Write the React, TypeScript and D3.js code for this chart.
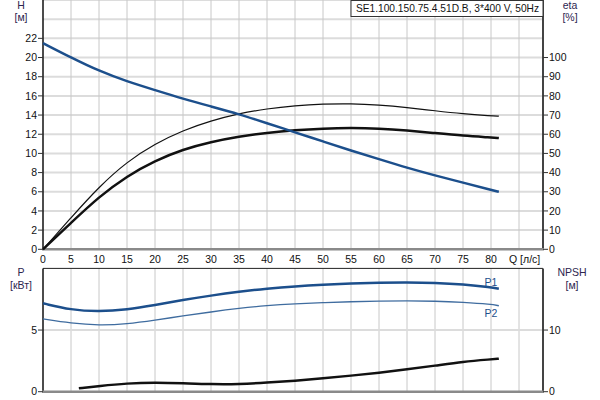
import React from "react";
import * as d3 from "d3";

const qTicks = [0, 5, 10, 15, 20, 25, 30, 35, 40, 45, 50, 55, 60, 65, 70, 75, 80];
const hTicks = [0, 2, 4, 6, 8, 10, 12, 14, 16, 18, 20, 22];
const etaTicks = [0, 10, 20, 30, 40, 50, 60, 70, 80, 90, 100];
const pTicks = [0, 5];
const npshTicks = [0, 10];

const qPts = [0, 5, 10, 15, 20, 25, 30, 35, 40, 45, 50, 55, 60, 65, 70, 75, 80, 81.4];
const headH = [21.5, 20.0, 18.6, 17.5, 16.6, 15.7, 14.9, 14.1, 13.15, 12.2, 11.25, 10.3, 9.4, 8.5, 7.7, 6.95, 6.2, 6.0];
const etaPump = [0, 16.5, 32.6, 45.7, 55, 62, 67, 70.8, 73.3, 74.9, 75.8, 76, 75.3, 74, 72.2, 70.6, 69.6, 69.4];
const etaTotal = [0, 13.8, 27.4, 38.2, 46.2, 52.1, 56, 58.8, 60.8, 62.2, 63, 63.3, 63, 62, 60.6, 59.2, 58.3, 58];
const p1 = [7.17, 6.63, 6.49, 6.66, 7.03, 7.44, 7.8, 8.11, 8.36, 8.55, 8.68, 8.78, 8.84, 8.86, 8.83, 8.71, 8.47, 8.35];
const p2 = [5.9, 5.55, 5.38, 5.49, 5.8, 6.15, 6.47, 6.76, 6.99, 7.13, 7.22, 7.3, 7.35, 7.37, 7.35, 7.25, 7.09, 6.97];
const npshQ = [6.4, 10, 15, 20, 25, 30, 35, 40, 45, 50, 55, 60, 65, 70, 75, 80, 81.4];
const npsh = [0.55, 0.92, 1.36, 1.5, 1.38, 1.22, 1.22, 1.46, 1.78, 2.17, 2.6, 3.08, 3.63, 4.22, 4.87, 5.25, 5.35];

const title = "SE1.100.150.75.4.51D.B, 3*400 V, 50Hz";

const FONT = "'Liberation Sans', Arial, sans-serif";
const BLUE = "#1c4f8c";
const BLUE2 = "#3f6c9f";
const LABEL = "#2d2650";

export default function App() {
  const left = 43;
  const right = 543;
  const x = d3.scaleLinear().domain([0, 80]).range([43, 491]);
  const yH = d3.scaleLinear().domain([0, 26]).range([249.3, 0]);
  const yEta = d3.scaleLinear().domain([0, 130]).range([249.3, 0]);
  const yP = d3.scaleLinear().domain([0, 10]).range([391.7, 268.4]);
  const yN = d3.scaleLinear().domain([0, 20]).range([391.7, 268.4]);

  const mk = (ys: number[], yScale: d3.ScaleLinear<number, number>, xs: number[] = qPts) =>
    d3
      .line<number>()
      .x((_, i) => x(xs[i]))
      .y((d) => yScale(d))
      .curve(d3.curveBasis)(ys) || "";

  const gridQ = d3.range(5, 90, 5);
  const gridH = d3.range(2, 28, 2);

  return (
    <svg
      width={600}
      height={400}
      style={{ position: "fixed", left: 0, top: 0, background: "#fff" }}
      fontFamily={FONT}
      fontSize={10.5}
    >
      <rect x={0} y={0} width={600} height={400} fill="#fff" />
      {/* top plot grid */}
      {gridH.map((h) => (
        <line key={"gh" + h} x1={left} x2={right} y1={yH(h)} y2={yH(h)} stroke="#dcdcdc" strokeWidth={2} />
      ))}
      {gridQ.map((q) => (
        <line key={"gq" + q} x1={x(q)} x2={x(q)} y1={0} y2={249.3} stroke="#c8c8c8" strokeWidth={1} />
      ))}
      {/* bottom plot grid */}
      {gridQ.map((q) => (
        <line key={"bq" + q} x1={x(q)} x2={x(q)} y1={268.4} y2={391.7} stroke="#c8c8c8" strokeWidth={1} />
      ))}
      <line x1={left} x2={right} y1={yP(5)} y2={yP(5)} stroke="#dcdcdc" strokeWidth={2} />

      {/* top axes */}
      <line x1={left} x2={left} y1={0} y2={249.3} stroke="#111" strokeWidth={1.5} />
      <line x1={right} x2={right} y1={0} y2={249.3} stroke="#444" strokeWidth={2} />
      <line x1={left - 1} x2={right + 1} y1={249.3} y2={249.3} stroke="#8a8a8a" strokeWidth={2.5} />
      {hTicks.map((h) => (
        <g key={"ht" + h}>
          <line x1={left - 5} x2={left} y1={yH(h)} y2={yH(h)} stroke="#333" strokeWidth={1} />
          <text x={37} y={yH(h)} dy="0.35em" textAnchor="end" fill="#111">
            {h}
          </text>
        </g>
      ))}
      {etaTicks.map((e) => (
        <g key={"et" + e}>
          <line x1={right} x2={right + 5} y1={yEta(e)} y2={yEta(e)} stroke="#333" strokeWidth={1} />
          <text x={549} y={yEta(e)} dy="0.35em" textAnchor="start" fill="#111">
            {e}
          </text>
        </g>
      ))}
      {qTicks.map((q) => (
        <text key={"qt" + q} x={x(q)} y={259.5} dy="0.35em" textAnchor="middle" fill="#111">
          {q}
        </text>
      ))}
      <text x={509} y={259.5} dy="0.35em" textAnchor="start" fill="#111">
        Q [л/с]
      </text>

      <text x={21} y={5} dy="0.35em" textAnchor="middle" fill={LABEL}>H</text>
      <text x={21} y={17.5} dy="0.35em" textAnchor="middle" fill={LABEL}>[м]</text>
      <text x={570} y={5} dy="0.35em" textAnchor="middle" fill={LABEL}>eta</text>
      <text x={570} y={17.5} dy="0.35em" textAnchor="middle" fill={LABEL}>[%]</text>

      {/* bottom axes */}
      <line x1={left} x2={right} y1={268.4} y2={268.4} stroke="#222" strokeWidth={1} />
      <line x1={left} x2={left} y1={268.4} y2={391.7} stroke="#111" strokeWidth={1.5} />
      <line x1={right} x2={right} y1={268.4} y2={391.7} stroke="#444" strokeWidth={2} />
      <line x1={left - 1} x2={right + 1} y1={391.7} y2={391.7} stroke="#8a8a8a" strokeWidth={2.5} />
      {pTicks.map((p) => (
        <g key={"pt" + p}>
          <line x1={left - 5} x2={left} y1={yP(p)} y2={yP(p)} stroke="#333" strokeWidth={1} />
          <text x={37} y={yP(p)} dy="0.35em" textAnchor="end" fill="#111">
            {p}
          </text>
        </g>
      ))}
      {npshTicks.map((n) => (
        <g key={"nt" + n}>
          <line x1={right} x2={right + 5} y1={yN(n)} y2={yN(n)} stroke="#333" strokeWidth={1} />
          <text x={549} y={yN(n)} dy="0.35em" textAnchor="start" fill="#111">
            {n}
          </text>
        </g>
      ))}
      <text x={21} y={272.7} dy="0.35em" textAnchor="middle" fill={LABEL}>P</text>
      <text x={21} y={285} dy="0.35em" textAnchor="middle" fill={LABEL}>[кВт]</text>
      <text x={572} y={272.7} dy="0.35em" textAnchor="middle" fill={LABEL}>NPSH</text>
      <text x={572} y={285} dy="0.35em" textAnchor="middle" fill={LABEL}>[м]</text>

      {/* title box */}
      <rect x={351} y={0.5} width={192} height={16} fill="#fff" stroke="#333" strokeWidth={1} />
      <text x={447.5} y={8.5} dy="0.35em" textAnchor="middle" fill="#111" fontSize={10.2}>
        {title}
      </text>

      {/* top curves */}
      <path d={mk(etaPump, yEta)} fill="none" stroke="#111" strokeWidth={1.2} />
      <path d={mk(etaTotal, yEta)} fill="none" stroke="#111" strokeWidth={2.5} />
      <path d={mk(headH, yH)} fill="none" stroke={BLUE} strokeWidth={2.5} />

      {/* bottom curves */}
      <path d={mk(p1, yP)} fill="none" stroke={BLUE} strokeWidth={2.5} />
      <path d={mk(p2, yP)} fill="none" stroke={BLUE2} strokeWidth={1.3} />
      <path d={mk(npsh, yN, npshQ)} fill="none" stroke="#111" strokeWidth={2.5} />
      <text x={491} y={282} dy="0.35em" textAnchor="middle" fill={BLUE}>P1</text>
      <text x={491} y={313} dy="0.35em" textAnchor="middle" fill={BLUE}>P2</text>
    </svg>
  );
}
